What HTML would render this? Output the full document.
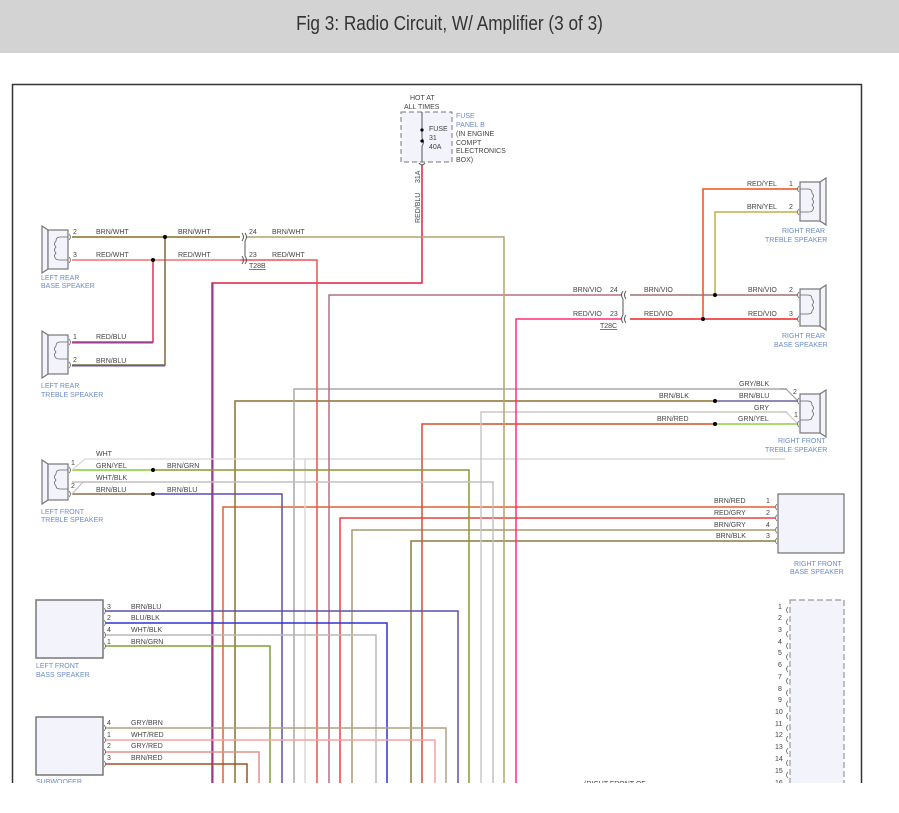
<!DOCTYPE html>
<html><head><meta charset="utf-8"><style>
html,body{margin:0;padding:0;background:#fff;width:899px;height:813px;overflow:hidden}
.hdr{position:absolute;left:0;top:0;width:899px;height:53px;background:#d3d3d3}
.hdr div{position:absolute;left:0;width:899px;top:13px;text-align:center;font:20px "Liberation Sans",sans-serif;color:#333;transform:scaleX(0.86)}
svg{position:absolute;left:0;top:0}
text{font-family:"Liberation Sans",sans-serif;font-size:7px;fill:#444}
.c{fill:#6a8cc8}
</style></head><body>
<div class="hdr"><div>Fig 3: Radio Circuit, W/ Amplifier (3 of 3)</div></div>
<svg width="899" height="813" viewBox="0 0 899 813">
<defs><clipPath id="cl"><rect x="0" y="0" width="899" height="783"/></clipPath></defs>
<g clip-path="url(#cl)" fill="none" stroke-width="1.5">
<rect x="12.5" y="84.5" width="849" height="760" stroke="#333" stroke-width="1.5"/>
<rect x="401" y="112" width="51" height="50" fill="#f3f3fb" stroke="#777" stroke-dasharray="5,3" stroke-width="1"/>
<path d="M422 112V138M422 146V162" stroke="#555" stroke-width="1"/>
<path d="M422 138q3 4 0 8" stroke="#555" stroke-width="1"/>
<circle cx="422" cy="130" r="1.6" fill="#000" stroke="none"/><circle cx="422" cy="141" r="1.6" fill="#000" stroke="none"/>
<path d="M422 165V283H212V790" stroke="#e02040"/>
<path d="M213 283V790" stroke="#5050d0" stroke-width="1"/>
<path d="M775 507H223V790" stroke="#e06030"/>
<path d="M715 401H235V790" stroke="#8a7030"/>
<path d="M105 764H247V790" stroke="#a05020"/>
<path d="M105 752H259V790" stroke="#e09090"/>
<path d="M105 646H270V790" stroke="#80a030"/>
<path d="M153 494H282V790" stroke="#5a50b0"/>
<path d="M787 389H294V790" stroke="#a8a8a8"/>
<path d="M785 459H305V790" stroke="#d8d8d8"/>
<path d="M240 260H317V790" stroke="#f05050"/>
<path d="M621 295H329V790" stroke="#b07080"/>
<path d="M775 518H340V790" stroke="#e84040"/>
<path d="M775 530H352V790" stroke="#a89870"/>
<path d="M105 635H376V790" stroke="#b8b8b8"/>
<path d="M105 623H387V790" stroke="#3030d0"/>
<path d="M775 541H411V790" stroke="#8a7a40"/>
<path d="M715 424H422V790" stroke="#d05020"/>
<path d="M105 740H435V790" stroke="#f8a0a0"/>
<path d="M105 728H446V790" stroke="#b0a080"/>
<path d="M105 611H458V790" stroke="#5a50b0"/>
<path d="M153 470H469V790" stroke="#8a9a30"/>
<path d="M787 412H481V790" stroke="#c8c8c8"/>
<path d="M72 482H493V790" stroke="#c0c0c0"/>
<path d="M247 237H504V790" stroke="#b5a070"/>
<path d="M621 319H516V790" stroke="#ff3070"/>
<path d="M72 237H240" stroke="#8a6d1c"/>
<path d="M72 260H240" stroke="#f07070"/>
<path d="M165 237V365H72" stroke="#7a6a40"/>
<path d="M72 366H165" stroke="#5a50b0" stroke-width="1"/>
<path d="M153 260V342H72" stroke="#e03050"/>
<path d="M72 343H153" stroke="#5a50d0" stroke-width="1"/>
<path d="M72 470H153" stroke="#80d030"/>
<path d="M72 494H153" stroke="#8a6d4c"/>
<path d="M72 470L85 459H305" stroke="#d8d8d8" stroke-width="1.2"/>
<path d="M72 494L83 482H100" stroke="#c0c0c0" stroke-width="1.2"/>
<path d="M798 189H703V319" stroke="#f05010"/>
<path d="M798 212H715V295" stroke="#c0b040"/>
<path d="M630 295H798" stroke="#a07070"/>
<path d="M630 319H798" stroke="#f02020"/>
<path d="M715 401H798" stroke="#6a60a0"/>
<path d="M715 424H798" stroke="#90d040"/>
<path d="M780 389H786L798 401" stroke="#a0a0a0" stroke-width="1.2"/>
<path d="M780 412H786L798 424" stroke="#c8c8c8" stroke-width="1.2"/>
<g fill="#000" stroke="none">
<circle cx="165" cy="237" r="2"/><circle cx="153" cy="260" r="2"/>
<circle cx="153" cy="470" r="2"/><circle cx="153" cy="494" r="2"/>
<circle cx="715" cy="295" r="2"/><circle cx="703" cy="319" r="2"/>
<circle cx="715" cy="401" r="2"/><circle cx="715" cy="424" r="2"/>
</g>
<g stroke="#555" stroke-width="1">
<path d="M242 233q3 4 0 8M245 233q3 4 0 8M242 256q3 4 0 8M245 256q3 4 0 8M245 241V256"/>
<path d="M626 291q-3 4 0 8M623 291q-3 4 0 8M626 315q-3 4 0 8M623 315q-3 4 0 8M623 299V315"/>
<path d="M419 163q3 4 6 0"/>
</g>
<g stroke="#777" stroke-width="1.2" fill="#f3f3fb">
<path d="M42 226L48 230V269L42 273Z"/><rect x="48" y="230" width="20" height="39"/>
<path d="M42 331L48 335V374L42 378Z"/><rect x="48" y="335" width="20" height="39"/>
<path d="M42 460L48 464V500L42 504Z"/><rect x="48" y="464" width="20" height="36"/>
<path d="M826 178L820 182V221L826 225Z"/><rect x="800" y="182" width="20" height="39"/>
<path d="M826 285L820 289V326L826 330Z"/><rect x="800" y="289" width="20" height="37"/>
<path d="M826 390L820 394V433L826 437Z"/><rect x="800" y="394" width="20" height="39"/>
<rect x="36" y="600" width="67" height="58" stroke="#777" stroke-width="1.5"/>
<rect x="36" y="717" width="67" height="58" stroke="#777" stroke-width="1.5"/>
<rect x="778" y="494" width="66" height="59" stroke="#555" stroke-width="1"/>
<rect x="790" y="600" width="54" height="200" stroke="#999" stroke-dasharray="6,3"/>
</g>
<g stroke="#666" stroke-width="0.8">
<path d="M68 237H60q-4 0-4 4q-3 3 0 6q-3 3 0 6q-3 3 0 6q0 1 4 1H68"/>
<path d="M68 342H60q-4 0-4 4q-3 3 0 6q-3 3 0 6q0 1 4 1H68"/>
<path d="M68 470H60q-4 0-4 4q-3 3 0 6q-3 3 0 6q0 3 4 3H68"/>
<path d="M800 189H808q4 0 4 4q3 3 0 6q3 3 0 6q3 3 0 6q0 1-4 1H800"/>
<path d="M800 295H808q4 0 4 4q3 3 0 6q3 3 0 6q0 3-4 3H800"/>
<path d="M800 401H808q4 0 4 4q3 3 0 6q3 3 0 6q0 3-4 3H800"/>
<path d="M69 234q3 3 0 6M69 257q3 3 0 6M69 339q3 3 0 6M69 362q3 3 0 6M69 467q3 3 0 6M69 491q3 3 0 6"/>
<path d="M799 186q-3 3 0 6M799 209q-3 3 0 6M799 292q-3 3 0 6M799 316q-3 3 0 6M799 398q-3 3 0 6M799 421q-3 3 0 6"/>
<path d="M104 608q3 3 0 6M104 620q3 3 0 6M104 632q3 3 0 6M104 643q3 3 0 6M104 725q3 3 0 6M104 737q3 3 0 6M104 749q3 3 0 6M104 761q3 3 0 6"/>
<path d="M777 504q-3 3 0 6M777 515q-3 3 0 6M777 527q-3 3 0 6M777 538q-3 3 0 6"/>
<path d="M788 607q-3 3 0 6M788 619q-3 3 0 6M788 631q-3 3 0 6M788 643q-3 3 0 6M788 654q-3 3 0 6M788 666q-3 3 0 6M788 678q-3 3 0 6M788 690q-3 3 0 6M788 701q-3 3 0 6M788 713q-3 3 0 6M788 725q-3 3 0 6M788 736q-3 3 0 6M788 748q-3 3 0 6M788 760q-3 3 0 6M788 772q-3 3 0 6"/>
</g>
</g>
<g clip-path="url(#cl)">
<text x="410" y="100">HOT AT</text><text x="404" y="109">ALL TIMES</text>
<text x="429" y="131">FUSE</text><text x="429" y="140">31</text><text x="429" y="149">40A</text>
<text class="c" x="456" y="118">FUSE</text><text class="c" x="456" y="127">PANEL B</text>
<text x="456" y="136">(IN ENGINE</text><text x="456" y="145">COMPT</text><text x="456" y="153">ELECTRONICS</text><text x="456" y="162">BOX)</text>
<text transform="translate(420,183) rotate(-90)">31A</text>
<text transform="translate(420,223) rotate(-90)">RED/BLU</text>
<text x="73" y="234">2</text><text x="73" y="257">3</text>
<text x="96" y="234">BRN/WHT</text><text x="178" y="234">BRN/WHT</text><text x="249" y="234">24</text><text x="272" y="234">BRN/WHT</text>
<text x="96" y="257">RED/WHT</text><text x="178" y="257">RED/WHT</text><text x="249" y="257">23</text><text x="272" y="257">RED/WHT</text>
<text x="249" y="268" text-decoration="underline">T28B</text>
<text class="c" x="41" y="280">LEFT REAR</text><text class="c" x="41" y="288">BASE SPEAKER</text>
<text x="73" y="339">1</text><text x="73" y="362">2</text>
<text x="96" y="339">RED/BLU</text><text x="96" y="363">BRN/BLU</text>
<text class="c" x="41" y="388">LEFT REAR</text><text class="c" x="41" y="397">TREBLE SPEAKER</text>
<text x="96" y="456">WHT</text><text x="96" y="468">GRN/YEL</text><text x="167" y="468">BRN/GRN</text>
<text x="96" y="480">WHT/BLK</text><text x="96" y="492">BRN/BLU</text><text x="167" y="492">BRN/BLU</text>
<text x="71" y="465">1</text><text x="71" y="488">2</text>
<text class="c" x="41" y="514">LEFT FRONT</text><text class="c" x="41" y="522">TREBLE SPEAKER</text>
<text x="107" y="609">3</text><text x="131" y="609">BRN/BLU</text>
<text x="107" y="620">2</text><text x="131" y="620">BLU/BLK</text>
<text x="107" y="632">4</text><text x="131" y="632">WHT/BLK</text>
<text x="107" y="644">1</text><text x="131" y="644">BRN/GRN</text>
<text class="c" x="36" y="668">LEFT FRONT</text><text class="c" x="36" y="677">BASS SPEAKER</text>
<text x="107" y="725">4</text><text x="131" y="725">GRY/BRN</text>
<text x="107" y="737">1</text><text x="131" y="737">WHT/RED</text>
<text x="107" y="748">2</text><text x="131" y="748">GRY/RED</text>
<text x="107" y="760">3</text><text x="131" y="760">BRN/RED</text>
<text class="c" x="36" y="784">SUBWOOFER</text>
<text x="747" y="186">RED/YEL</text><text x="789" y="186">1</text>
<text x="747" y="209">BRN/YEL</text><text x="789" y="209">2</text>
<text class="c" x="782" y="233">RIGHT REAR</text><text class="c" x="765" y="242">TREBLE SPEAKER</text>
<text x="573" y="292">BRN/VIO</text><text x="610" y="292">24</text><text x="644" y="292">BRN/VIO</text><text x="748" y="292">BRN/VIO</text><text x="789" y="292">2</text>
<text x="573" y="316">RED/VIO</text><text x="610" y="316">23</text><text x="644" y="316">RED/VIO</text><text x="748" y="316">RED/VIO</text><text x="789" y="316">3</text>
<text x="600" y="328" text-decoration="underline">T28C</text>
<text class="c" x="782" y="338">RIGHT REAR</text><text class="c" x="774" y="347">BASE SPEAKER</text>
<text x="739" y="386">GRY/BLK</text><text x="793" y="394">2</text>
<text x="659" y="398">BRN/BLK</text><text x="739" y="398">BRN/BLU</text>
<text x="754" y="410">GRY</text><text x="794" y="417">1</text>
<text x="657" y="421">BRN/RED</text><text x="738" y="421">GRN/YEL</text>
<text class="c" x="778" y="443">RIGHT FRONT</text><text class="c" x="765" y="452">TREBLE SPEAKER</text>
<text x="714" y="503">BRN/RED</text><text x="766" y="503">1</text>
<text x="714" y="515">RED/GRY</text><text x="766" y="515">2</text>
<text x="714" y="527">BRN/GRY</text><text x="766" y="527">4</text>
<text x="716" y="538">BRN/BLK</text><text x="766" y="538">3</text>
<text class="c" x="794" y="566">RIGHT FRONT</text><text class="c" x="790" y="574">BASE SPEAKER</text>
<text x="778" y="609">1</text><text x="778" y="620">2</text><text x="778" y="632">3</text><text x="778" y="644">4</text><text x="778" y="655">5</text><text x="778" y="667">6</text><text x="778" y="679">7</text><text x="778" y="691">8</text><text x="778" y="702">9</text><text x="775" y="714">10</text><text x="775" y="726">11</text><text x="775" y="737">12</text><text x="775" y="749">13</text><text x="775" y="761">14</text><text x="775" y="773">15</text><text x="775" y="785">16</text>
<text x="584" y="786">(RIGHT FRONT OF</text>
</g>
</svg>
</body></html>
